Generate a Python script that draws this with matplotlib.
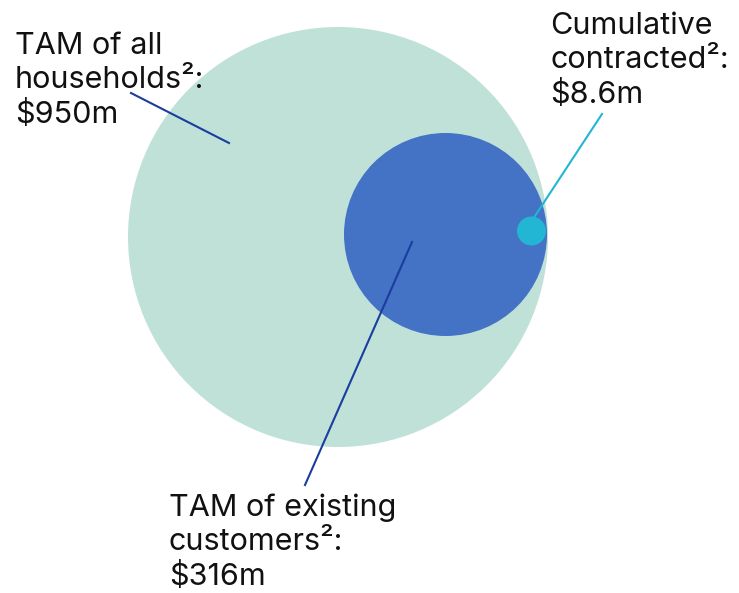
import matplotlib.pyplot as plt
from matplotlib.patches import Circle

plt.rcParams['font.family'] = ['Inter', 'DejaVu Sans']

# market sizes ($m) and their labels
segments = ['TAM of all\nhouseholds²:', 'TAM of existing\ncustomers²:', 'Cumulative\ncontracted²:']
values = [950, 316, 8.6]

# circle layout in pixel space (x, y, radius)
centres = [(338, 237), (445.5, 234.5), (531.5, 231)]
radii = [210, 101.5, 14.5]
colors = ['#c0e1d8', '#4472c4', '#22b5d4']

fig = plt.figure(figsize=(7.39, 5.93), dpi=100)
ax = fig.add_axes([0, 0, 1, 1])
ax.set_xlim(0, 739)
ax.set_ylim(593, 0)
ax.set_aspect('equal')
ax.axis('off')

for (cx, cy), r, c in zip(centres, radii, colors):
    ax.add_patch(Circle((cx, cy), r, color=c, lw=0))

# leader lines from label to circle
ax.plot([131, 229], [93, 143], color='#1a3d9e', lw=1.5)
ax.plot([412, 305], [242, 485], color='#1a3d9e', lw=1.5)
ax.plot([602, 533], [114, 219], color='#22b5d4', lw=1.5)

label_pos = [(15, 32), (169, 494), (550, 12)]
for seg, v, (x, y) in zip(segments, values, label_pos):
    ax.text(x, y, f'{seg}\n${v:g}m', fontsize=22, color='#111111',
            ha='left', va='top', linespacing=1.26, multialignment='left')

fig.savefig('out.png', dpi=100)
